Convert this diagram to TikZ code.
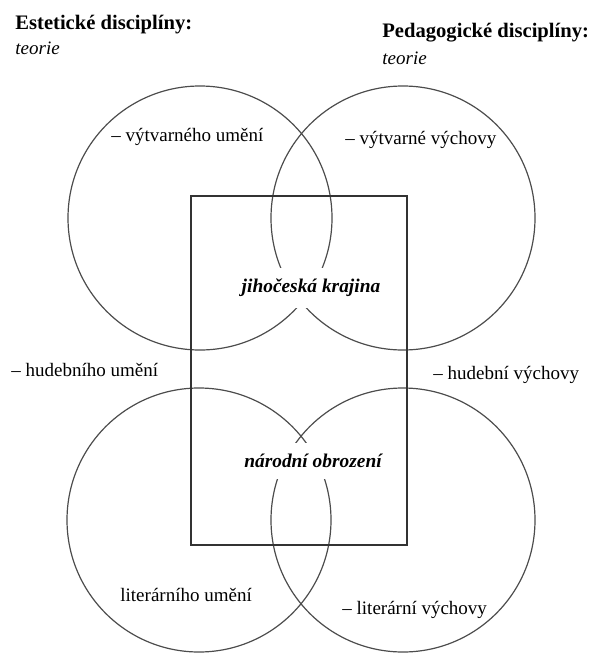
\documentclass[tikz,border=0pt]{standalone}
\usepackage{fontspec}
\setmainfont{Liberation Serif}
\usetikzlibrary{positioning}

\begin{document}
\begin{tikzpicture}[
  x=0.5pt,y=-0.5pt,
  ring/.style={circle,draw=black!70,line width=0.6pt,minimum size=132pt,inner sep=0pt},
  frame/.style={draw=black!80,line width=0.65pt},
  head/.style={anchor=west,inner sep=0pt,font=\fontsize{10.3}{12}\selectfont\bfseries},
  sub/.style={anchor=west,inner sep=0pt,font=\fontsize{9.5}{11}\selectfont\itshape},
  lbl/.style={anchor=west,inner sep=0pt,font=\fontsize{9.5}{11}\selectfont},
  core/.style={fill=white,inner xsep=2pt,inner ysep=5.5pt,font=\fontsize{9.7}{11}\selectfont\bfseries\itshape},
]
\useasboundingbox (0,0) rectangle (592,653);

\node[ring] (vytvUm) at (200,218) {};
\node[ring] (vytvVych) at (403,218) {};
\node[ring] (litUm) at (199,520) {};
\node[ring] (litVych) at (403,520) {};

\coordinate (frameA) at (191,196);
\coordinate (frameB) at (407,545);
\draw[frame] (frameA) rectangle (frameB);

\node[head] (estet) at (15,25) {Estetické disciplíny:};
\node[sub] (estetT) at (15,48) {teorie};
\node[head] (pedag) at (382,33) {Pedagogické disciplíny:};
\node[sub] (pedagT) at (382,58) {teorie};

\node[lbl] (lVytvUm) at (111,137) {– výtvarného umění};
\node[lbl] (lVytvVych) at (345,140) {– výtvarné výchovy};
\node[lbl] (lHudUm) at (11,370) {– hudebního umění};
\node[lbl] (lHudVych) at (433,375) {– hudební výchovy};
\node[lbl] (lLitUm) at (120,595) {literárního umění};
\node[lbl] (lLitVych) at (342,610) {– literární výchovy};

\node[core] (krajina) at (311,288) {jihočeská krajina};
\node[core] (obrozeni) at (313,461) {národní obrození};
\end{tikzpicture}
\end{document}
